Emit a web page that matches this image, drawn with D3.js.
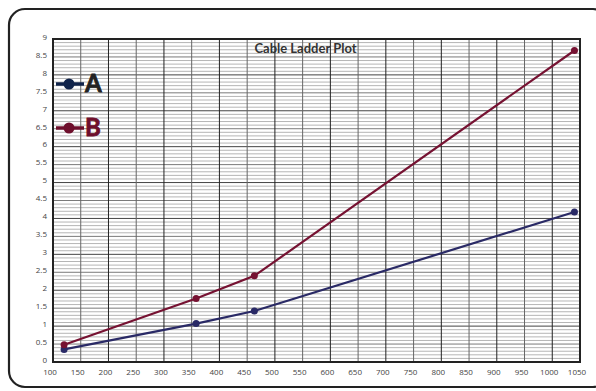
<!DOCTYPE html>
<html>
<head>
<meta charset="utf-8">
<script src="https://cdn.jsdelivr.net/npm/d3@7"></script>
<style>
  body { margin: 0; background: #fff; }
  svg { display: block; }
  .tick-label { font-family: "Open Sans", sans-serif; font-size: 8px; fill: #444; }
</style>
</head>
<body>
<script>
var W = 596, H = 391;
var margin = {top: 39, right: 16, bottom: 29, left: 53},
    width = W - margin.left - margin.right,
    height = H - margin.top - margin.bottom;

// data
var lengthA = [120, 358, 463, 1040];
var valuesA = [0.35, 1.07, 1.42, 4.18];
var lengthB = [120, 358, 463, 1040];
var valuesB = [0.48, 1.77, 2.40, 8.68];
var seriesNames = ['A', 'B'];
var seriesColors = ['#2a2a66', '#761232'];
var legendColors = ['#10234a', '#6e0f2c'];
var xTicks = d3.range(100, 1051, 50);
var yTicks = d3.range(0, 9.01, 0.5);

var xScale = d3.scaleLinear().domain([100, 1050]).range([0, width]);
var yScale = d3.scaleLinear().domain([0, 9]).range([height, 0]);

var svg = d3.select('body').append('svg')
    .attr('width', W)
    .attr('height', H);

// rounded frame
svg.append('rect')
    .attr('x', 9).attr('y', 9)
    .attr('width', 600).attr('height', 378)
    .attr('rx', 16).attr('ry', 16)
    .style('fill', 'none')
    .style('stroke', '#222')
    .style('stroke-width', 2.2);

var g = svg.append('g')
    .attr('transform', 'translate(' + margin.left + ',' + margin.top + ')');

// minor horizontal grid
var minor = d3.range(0, 9.001, 0.1).filter(function(d) {
  return Math.abs(d * 2 - Math.round(d * 2)) > 0.01;
});
g.selectAll('.hminor')
    .data(minor)
  .enter().append('line')
    .attr('class', 'hminor')
    .attr('x1', 0).attr('x2', width)
    .attr('y1', function(d) { return yScale(d); })
    .attr('y2', function(d) { return yScale(d); })
    .style('stroke', '#b5b5b5')
    .style('stroke-width', 1);

// major horizontal grid
g.selectAll('.hmajor')
    .data(yTicks)
  .enter().append('line')
    .attr('class', 'hmajor')
    .attr('x1', 0).attr('x2', width)
    .attr('y1', function(d) { return yScale(d); })
    .attr('y2', function(d) { return yScale(d); })
    .style('stroke', function(d, i) { return i % 2 ? '#7a7a7a' : '#444'; })
    .style('stroke-width', 1);

// vertical grid
g.selectAll('.vgrid')
    .data(xTicks)
  .enter().append('line')
    .attr('class', 'vgrid')
    .attr('x1', function(d) { return xScale(d); })
    .attr('x2', function(d) { return xScale(d); })
    .attr('y1', 0).attr('y2', height)
    .style('stroke', function(d, i) { return i % 2 ? '#666' : '#222'; })
    .style('stroke-width', 1);

// plot border
g.append('rect')
    .attr('width', width).attr('height', height)
    .style('fill', 'none')
    .style('stroke', '#222')
    .style('stroke-width', 2);

// y labels
g.selectAll('.ylab')
    .data(yTicks)
  .enter().append('text')
    .attr('class', 'tick-label')
    .attr('x', -6)
    .attr('y', function(d) { return yScale(d); })
    .attr('dy', '0.1em')
    .style('text-anchor', 'end')
    .text(function(d) { return d; });

// x labels
g.selectAll('.xlab')
    .data(xTicks)
  .enter().append('text')
    .attr('class', 'tick-label')
    .attr('x', function(d) { return xScale(d) - 3; })
    .attr('y', height + 13)
    .style('text-anchor', 'middle')
    .text(function(d) { return d; });

// title
g.append('text')
    .attr('x', width / 2 - 11)
    .attr('y', 14)
    .style('font-family', 'Lato, sans-serif')
    .style('font-weight', 'bold')
    .style('font-size', '13px')
    .style('fill', '#333')
    .style('text-anchor', 'middle')
    .text('Cable Ladder Plot');

// series
var line = d3.line()
    .x(function(d) { return xScale(d[0]); })
    .y(function(d) { return yScale(d[1]); });

var series = [d3.zip(lengthA, valuesA), d3.zip(lengthB, valuesB)];

series.forEach(function(pts, i) {
  g.append('path')
      .datum(pts)
      .attr('d', line)
      .style('fill', 'none')
      .style('stroke', seriesColors[i])
      .style('stroke-width', 2.2);
  g.selectAll('.pt' + i)
      .data(pts)
    .enter().append('circle')
      .attr('class', 'pt' + i)
      .attr('cx', function(d) { return xScale(d[0]); })
      .attr('cy', function(d) { return yScale(d[1]); })
      .attr('r', 3.5)
      .style('fill', seriesColors[i]);
});

// legend
var legend = svg.selectAll('.legend')
    .data(seriesNames)
  .enter().append('g')
    .attr('class', 'legend')
    .attr('transform', function(d, i) { return 'translate(56,' + (84 + i * 44) + ')'; });

legend.append('line')
    .attr('x1', 0).attr('x2', 28)
    .style('stroke', function(d, i) { return legendColors[i]; })
    .style('stroke-width', 3.5);

legend.append('circle')
    .attr('cx', 13).attr('r', 5.5)
    .style('fill', function(d, i) { return legendColors[i]; });

legend.append('text')
    .attr('x', 29)
    .attr('y', 8)
    .style('font-family', 'Lato, sans-serif')
    .style('font-weight', 'bold')
    .style('font-size', '24px')
    .style('stroke', function(d, i) { return i ? legendColors[i] : '#222'; })
    .style('stroke-width', 0.8)
    .style('fill', function(d, i) { return i ? legendColors[i] : '#222'; })
    .text(function(d) { return d; });
</script>
</body>
</html>
